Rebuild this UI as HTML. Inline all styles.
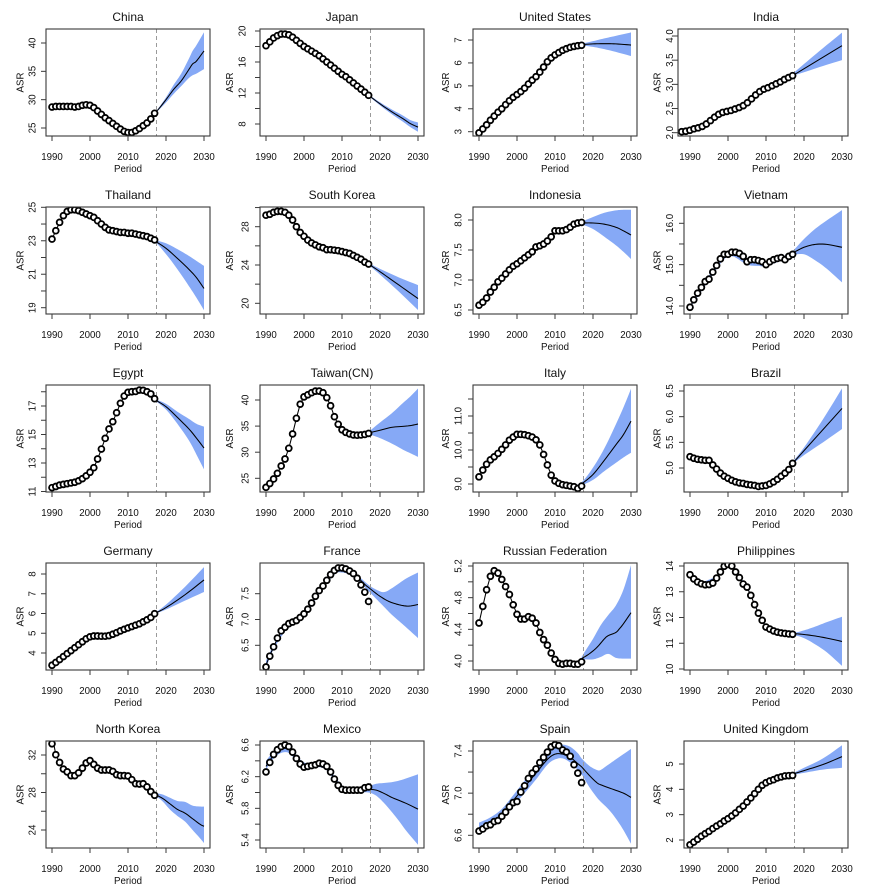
<!DOCTYPE html>
<html><head><meta charset="utf-8">
<style>
html,body{margin:0;padding:0;background:#fff;}
svg{display:block;}
svg text{font-family:"Liberation Sans",Arial,sans-serif;fill:#111;}
.t{font-size:12px;text-anchor:middle;}
.a{font-size:9.7px;text-anchor:middle;}
</style></head>
<body>
<svg id="s" xmlns="http://www.w3.org/2000/svg" width="869" height="892" viewBox="0 0 869 892">
<rect width="869" height="892" fill="#fff"/>
<defs id="defs"></defs>

<g id="p0" transform="translate(0,0)">
<text class="t" x="128" y="21">China</text>
<text class="a" x="52" y="160">1990</text><text class="a" x="90" y="160">2000</text><text class="a" x="128" y="160">2010</text><text class="a" x="166" y="160">2020</text><text class="a" x="204" y="160">2030</text>
<text class="a" x="128" y="172">Period</text>
<text class="a" transform="translate(23.5,82.5) rotate(-90)">ASR</text>
<text class="a" transform="translate(35.5,128) rotate(-90)">25</text>
<text class="a" transform="translate(35.5,99.7) rotate(-90)">30</text>
<text class="a" transform="translate(35.5,71.3) rotate(-90)">35</text>
<text class="a" transform="translate(35.5,43) rotate(-90)">40</text>
</g>

<g id="p1" transform="translate(214,0)">
<text class="t" x="128" y="21">Japan</text>
<text class="a" x="52" y="160">1990</text><text class="a" x="90" y="160">2000</text><text class="a" x="128" y="160">2010</text><text class="a" x="166" y="160">2020</text><text class="a" x="204" y="160">2030</text>
<text class="a" x="128" y="172">Period</text>
<text class="a" transform="translate(19,82.5) rotate(-90)">ASR</text>
<text class="a" transform="translate(31.5,124) rotate(-90)">8</text>
<text class="a" transform="translate(31.5,93) rotate(-90)">12</text>
<text class="a" transform="translate(31.5,62) rotate(-90)">16</text>
<text class="a" transform="translate(31.5,31) rotate(-90)">20</text>
</g>

<g id="p2" transform="translate(427,0)">
<text class="t" x="128" y="21">United States</text>
<text class="a" x="52" y="160">1990</text><text class="a" x="90" y="160">2000</text><text class="a" x="128" y="160">2010</text><text class="a" x="166" y="160">2020</text><text class="a" x="204" y="160">2030</text>
<text class="a" x="128" y="172">Period</text>
<text class="a" transform="translate(22,82.5) rotate(-90)">ASR</text>
<text class="a" transform="translate(34.5,131.7) rotate(-90)">3</text>
<text class="a" transform="translate(34.5,108.8) rotate(-90)">4</text>
<text class="a" transform="translate(34.5,85.8) rotate(-90)">5</text>
<text class="a" transform="translate(34.5,62.9) rotate(-90)">6</text>
<text class="a" transform="translate(34.5,40) rotate(-90)">7</text>
</g>

<g id="p3" transform="translate(638,0)">
<text class="t" x="128" y="21">India</text>
<text class="a" x="52" y="160">1990</text><text class="a" x="90" y="160">2000</text><text class="a" x="128" y="160">2010</text><text class="a" x="166" y="160">2020</text><text class="a" x="204" y="160">2030</text>
<text class="a" x="128" y="172">Period</text>
<text class="a" transform="translate(22.5,82.5) rotate(-90)">ASR</text>
<text class="a" transform="translate(35,132.7) rotate(-90)">2.0</text>
<text class="a" transform="translate(35,108.5) rotate(-90)">2.5</text>
<text class="a" transform="translate(35,84.4) rotate(-90)">3.0</text>
<text class="a" transform="translate(35,60.2) rotate(-90)">3.5</text>
<text class="a" transform="translate(35,36) rotate(-90)">4.0</text>
</g>

<g id="p4" transform="translate(0,178)">
<text class="t" x="128" y="21">Thailand</text>
<text class="a" x="52" y="160">1990</text><text class="a" x="90" y="160">2000</text><text class="a" x="128" y="160">2010</text><text class="a" x="166" y="160">2020</text><text class="a" x="204" y="160">2030</text>
<text class="a" x="128" y="172">Period</text>
<text class="a" transform="translate(23.5,82.5) rotate(-90)">ASR</text>
<text class="a" transform="translate(35.5,129.7) rotate(-90)">19</text>
<text class="a" transform="translate(35.5,96.2) rotate(-90)">21</text>
<text class="a" transform="translate(35.5,62.8) rotate(-90)">23</text>
<text class="a" transform="translate(35.5,29.3) rotate(-90)">25</text>
</g>

<g id="p5" transform="translate(214,178)">
<text class="t" x="128" y="21">South Korea</text>
<text class="a" x="52" y="160">1990</text><text class="a" x="90" y="160">2000</text><text class="a" x="128" y="160">2010</text><text class="a" x="166" y="160">2020</text><text class="a" x="204" y="160">2030</text>
<text class="a" x="128" y="172">Period</text>
<text class="a" transform="translate(19,82.5) rotate(-90)">ASR</text>
<text class="a" transform="translate(34.5,125.3) rotate(-90)">20</text>
<text class="a" transform="translate(34.5,87) rotate(-90)">24</text>
<text class="a" transform="translate(34.5,48.7) rotate(-90)">28</text>
</g>

<g id="p6" transform="translate(427,178)">
<text class="t" x="128" y="21">Indonesia</text>
<text class="a" x="52" y="160">1990</text><text class="a" x="90" y="160">2000</text><text class="a" x="128" y="160">2010</text><text class="a" x="166" y="160">2020</text><text class="a" x="204" y="160">2030</text>
<text class="a" x="128" y="172">Period</text>
<text class="a" transform="translate(22,82.5) rotate(-90)">ASR</text>
<text class="a" transform="translate(34.5,132) rotate(-90)">6.5</text>
<text class="a" transform="translate(34.5,102) rotate(-90)">7.0</text>
<text class="a" transform="translate(34.5,72) rotate(-90)">7.5</text>
<text class="a" transform="translate(34.5,42) rotate(-90)">8.0</text>
</g>

<g id="p7" transform="translate(638,178)">
<text class="t" x="128" y="21">Vietnam</text>
<text class="a" x="52" y="160">1990</text><text class="a" x="90" y="160">2000</text><text class="a" x="128" y="160">2010</text><text class="a" x="166" y="160">2020</text><text class="a" x="204" y="160">2030</text>
<text class="a" x="128" y="172">Period</text>
<text class="a" transform="translate(22.5,82.5) rotate(-90)">ASR</text>
<text class="a" transform="translate(35,128) rotate(-90)">14.0</text>
<text class="a" transform="translate(35,86.7) rotate(-90)">15.0</text>
<text class="a" transform="translate(35,45.3) rotate(-90)">16.0</text>
</g>

<g id="p8" transform="translate(0,356)">
<text class="t" x="128" y="21">Egypt</text>
<text class="a" x="52" y="160">1990</text><text class="a" x="90" y="160">2000</text><text class="a" x="128" y="160">2010</text><text class="a" x="166" y="160">2020</text><text class="a" x="204" y="160">2030</text>
<text class="a" x="128" y="172">Period</text>
<text class="a" transform="translate(23.5,82.5) rotate(-90)">ASR</text>
<text class="a" transform="translate(35.5,135.5) rotate(-90)">11</text>
<text class="a" transform="translate(35.5,107) rotate(-90)">13</text>
<text class="a" transform="translate(35.5,78.5) rotate(-90)">15</text>
<text class="a" transform="translate(35.5,50) rotate(-90)">17</text>
</g>

<g id="p9" transform="translate(214,356)">
<text class="t" x="128" y="21">Taiwan(CN)</text>
<text class="a" x="52" y="160">1990</text><text class="a" x="90" y="160">2000</text><text class="a" x="128" y="160">2010</text><text class="a" x="166" y="160">2020</text><text class="a" x="204" y="160">2030</text>
<text class="a" x="128" y="172">Period</text>
<text class="a" transform="translate(19,82.5) rotate(-90)">ASR</text>
<text class="a" transform="translate(34.5,122.3) rotate(-90)">25</text>
<text class="a" transform="translate(34.5,96.2) rotate(-90)">30</text>
<text class="a" transform="translate(34.5,70.1) rotate(-90)">35</text>
<text class="a" transform="translate(34.5,44) rotate(-90)">40</text>
</g>

<g id="p10" transform="translate(427,356)">
<text class="t" x="128" y="21">Italy</text>
<text class="a" x="52" y="160">1990</text><text class="a" x="90" y="160">2000</text><text class="a" x="128" y="160">2010</text><text class="a" x="166" y="160">2020</text><text class="a" x="204" y="160">2030</text>
<text class="a" x="128" y="172">Period</text>
<text class="a" transform="translate(22,82.5) rotate(-90)">ASR</text>
<text class="a" transform="translate(34.5,128) rotate(-90)">9.0</text>
<text class="a" transform="translate(34.5,94) rotate(-90)">10.0</text>
<text class="a" transform="translate(34.5,60) rotate(-90)">11.0</text>
</g>

<g id="p11" transform="translate(638,356)">
<text class="t" x="128" y="21">Brazil</text>
<text class="a" x="52" y="160">1990</text><text class="a" x="90" y="160">2000</text><text class="a" x="128" y="160">2010</text><text class="a" x="166" y="160">2020</text><text class="a" x="204" y="160">2030</text>
<text class="a" x="128" y="172">Period</text>
<text class="a" transform="translate(22.5,82.5) rotate(-90)">ASR</text>
<text class="a" transform="translate(35,112) rotate(-90)">5.0</text>
<text class="a" transform="translate(35,86.3) rotate(-90)">5.5</text>
<text class="a" transform="translate(35,60.7) rotate(-90)">6.0</text>
<text class="a" transform="translate(35,35) rotate(-90)">6.5</text>
</g>

<g id="p12" transform="translate(0,534)">
<text class="t" x="128" y="21">Germany</text>
<text class="a" x="52" y="160">1990</text><text class="a" x="90" y="160">2000</text><text class="a" x="128" y="160">2010</text><text class="a" x="166" y="160">2020</text><text class="a" x="204" y="160">2030</text>
<text class="a" x="128" y="172">Period</text>
<text class="a" transform="translate(23.5,82.5) rotate(-90)">ASR</text>
<text class="a" transform="translate(35.5,119) rotate(-90)">4</text>
<text class="a" transform="translate(35.5,99.3) rotate(-90)">5</text>
<text class="a" transform="translate(35.5,79.5) rotate(-90)">6</text>
<text class="a" transform="translate(35.5,59.8) rotate(-90)">7</text>
<text class="a" transform="translate(35.5,40) rotate(-90)">8</text>
</g>

<g id="p13" transform="translate(214,534)">
<text class="t" x="128" y="21">France</text>
<text class="a" x="52" y="160">1990</text><text class="a" x="90" y="160">2000</text><text class="a" x="128" y="160">2010</text><text class="a" x="166" y="160">2020</text><text class="a" x="204" y="160">2030</text>
<text class="a" x="128" y="172">Period</text>
<text class="a" transform="translate(19,82.5) rotate(-90)">ASR</text>
<text class="a" transform="translate(34.5,111.3) rotate(-90)">6.5</text>
<text class="a" transform="translate(34.5,85.5) rotate(-90)">7.0</text>
<text class="a" transform="translate(34.5,59.7) rotate(-90)">7.5</text>
</g>

<g id="p14" transform="translate(427,534)">
<text class="t" x="128" y="21">Russian Federation</text>
<text class="a" x="52" y="160">1990</text><text class="a" x="90" y="160">2000</text><text class="a" x="128" y="160">2010</text><text class="a" x="166" y="160">2020</text><text class="a" x="204" y="160">2030</text>
<text class="a" x="128" y="172">Period</text>
<text class="a" transform="translate(22,82.5) rotate(-90)">ASR</text>
<text class="a" transform="translate(34.5,127) rotate(-90)">4.0</text>
<text class="a" transform="translate(34.5,95.3) rotate(-90)">4.4</text>
<text class="a" transform="translate(34.5,63.7) rotate(-90)">4.8</text>
<text class="a" transform="translate(34.5,32) rotate(-90)">5.2</text>
</g>

<g id="p15" transform="translate(638,534)">
<text class="t" x="128" y="21">Philippines</text>
<text class="a" x="52" y="160">1990</text><text class="a" x="90" y="160">2000</text><text class="a" x="128" y="160">2010</text><text class="a" x="166" y="160">2020</text><text class="a" x="204" y="160">2030</text>
<text class="a" x="128" y="172">Period</text>
<text class="a" transform="translate(22.5,82.5) rotate(-90)">ASR</text>
<text class="a" transform="translate(35,135) rotate(-90)">10</text>
<text class="a" transform="translate(35,109.3) rotate(-90)">11</text>
<text class="a" transform="translate(35,83.5) rotate(-90)">12</text>
<text class="a" transform="translate(35,57.8) rotate(-90)">13</text>
<text class="a" transform="translate(35,32) rotate(-90)">14</text>
</g>

<g id="p16" transform="translate(0,712)">
<text class="t" x="128" y="21">North Korea</text>
<text class="a" x="52" y="160">1990</text><text class="a" x="90" y="160">2000</text><text class="a" x="128" y="160">2010</text><text class="a" x="166" y="160">2020</text><text class="a" x="204" y="160">2030</text>
<text class="a" x="128" y="172">Period</text>
<text class="a" transform="translate(23.5,82.5) rotate(-90)">ASR</text>
<text class="a" transform="translate(35.5,118) rotate(-90)">24</text>
<text class="a" transform="translate(35.5,80.5) rotate(-90)">28</text>
<text class="a" transform="translate(35.5,43) rotate(-90)">32</text>
</g>

<g id="p17" transform="translate(214,712)">
<text class="t" x="128" y="21">Mexico</text>
<text class="a" x="52" y="160">1990</text><text class="a" x="90" y="160">2000</text><text class="a" x="128" y="160">2010</text><text class="a" x="166" y="160">2020</text><text class="a" x="204" y="160">2030</text>
<text class="a" x="128" y="172">Period</text>
<text class="a" transform="translate(19,82.5) rotate(-90)">ASR</text>
<text class="a" transform="translate(34.5,128) rotate(-90)">5.4</text>
<text class="a" transform="translate(34.5,96.3) rotate(-90)">5.8</text>
<text class="a" transform="translate(34.5,64.7) rotate(-90)">6.2</text>
<text class="a" transform="translate(34.5,33) rotate(-90)">6.6</text>
</g>

<g id="p18" transform="translate(427,712)">
<text class="t" x="128" y="21">Spain</text>
<text class="a" x="52" y="160">1990</text><text class="a" x="90" y="160">2000</text><text class="a" x="128" y="160">2010</text><text class="a" x="166" y="160">2020</text><text class="a" x="204" y="160">2030</text>
<text class="a" x="128" y="172">Period</text>
<text class="a" transform="translate(22,82.5) rotate(-90)">ASR</text>
<text class="a" transform="translate(34.5,123.3) rotate(-90)">6.6</text>
<text class="a" transform="translate(34.5,81.2) rotate(-90)">7.0</text>
<text class="a" transform="translate(34.5,39) rotate(-90)">7.4</text>
</g>

<g id="p19" transform="translate(638,712)">
<text class="t" x="128" y="21">United Kingdom</text>
<text class="a" x="52" y="160">1990</text><text class="a" x="90" y="160">2000</text><text class="a" x="128" y="160">2010</text><text class="a" x="166" y="160">2020</text><text class="a" x="204" y="160">2030</text>
<text class="a" x="128" y="172">Period</text>
<text class="a" transform="translate(22.5,82.5) rotate(-90)">ASR</text>
<text class="a" transform="translate(35,128) rotate(-90)">2</text>
<text class="a" transform="translate(35,102.7) rotate(-90)">3</text>
<text class="a" transform="translate(35,77.3) rotate(-90)">4</text>
<text class="a" transform="translate(35,52) rotate(-90)">5</text>
</g>
</svg>

<script>
(function(){
var NS="http://www.w3.org/2000/svg";
function mk(t,a,p){var e=document.createElementNS(NS,t);for(var k in a)e.setAttribute(k,a[k]);p.appendChild(e);return e;}
function cr(pts,n){
  if(pts.length<3)return pts.slice();
  var out=[];
  for(var i=0;i<pts.length-1;i++){
    var p0=pts[i-1]||pts[i],p1=pts[i],p2=pts[i+1],p3=pts[i+2]||pts[i+1];
    for(var s=0;s<n;s++){var t=s/n,t2=t*t,t3=t2*t;
      var f=function(a,b,c,d){return 0.5*((2*b)+(-a+c)*t+(2*a-5*b+4*c-d)*t2+(-a+3*b-3*c+d)*t3);};
      out.push([f(p0[0],p1[0],p2[0],p3[0]),f(p0[1],p1[1],p2[1],p3[1])]);}
  }
  out.push(pts[pts.length-1]);return out;
}
function ps(a){return a.map(function(p){return p[0].toFixed(2)+","+p[1].toFixed(2);}).join(" ");}

var P=[
{m:[25,128,40,43],t:[25,30,35,40],
 h:[28.7,28.8,28.8,28.8,28.8,28.8,28.7,28.8,29.0,29.1,29.0,28.6,28.0,27.4,26.8,26.3,25.8,25.3,24.8,24.4,24.2,24.2,24.5,24.9,25.4,25.9,26.6,27.6],
 f:[[2017,27.6],[2018,28.3],[2020,30.0],[2022,31.8],[2024,33.3],[2026,35.3],[2027,36.3],[2028,36.8],[2030,38.6]],
 b:[[2017,27.5,27.7],[2018,28.1,28.5],[2020,29.5,30.4],[2022,31.0,32.6],[2024,32.4,34.6],[2026,33.8,37.2],[2027,34.3,38.6],[2028,34.6,39.6],[2030,35.4,41.9]]},
{m:[8,124,20,31],t:[8,10,12,14,16,18,20],
 h:[18.1,18.6,19.1,19.4,19.6,19.6,19.5,19.2,18.8,18.4,18.0,17.7,17.4,17.1,16.8,16.4,16.0,15.6,15.2,14.8,14.4,14.1,13.7,13.3,12.9,12.5,12.1,11.7],
 f:[[2017,11.7],[2020,10.6],[2023,9.6],[2026,8.7],[2028,8.05],[2030,7.6]],
 b:[[2017,11.6,11.8],[2020,10.4,10.8],[2023,9.3,9.9],[2026,8.3,9.1],[2028,7.6,8.5],[2030,7.0,8.2]]},
{m:[3,131.7,7,40],t:[3,4,5,6,7],
 h:[2.95,3.12,3.3,3.5,3.68,3.85,4.0,4.18,4.35,4.5,4.62,4.75,4.9,5.08,5.25,5.4,5.6,5.82,6.05,6.22,6.35,6.45,6.55,6.62,6.68,6.72,6.75,6.77],
 f:[[2017,6.8],[2020,6.83],[2023,6.84],[2026,6.83],[2030,6.78]],
 b:[[2017,6.76,6.84],[2020,6.7,6.95],[2023,6.6,7.07],[2026,6.48,7.18],[2030,6.3,7.33]]},
{m:[2,132.7,4,36],t:[2,2.5,3,3.5,4],hx0:43.7,bl:40,
 h:[2.02,2.03,2.05,2.08,2.1,2.13,2.18,2.25,2.32,2.38,2.42,2.44,2.46,2.49,2.52,2.56,2.62,2.7,2.78,2.85,2.9,2.93,2.97,3.01,3.05,3.1,3.14,3.18],
 f:[[2017,3.2],[2030,3.8]],
 b:[[2017,3.18,3.22],[2020,3.25,3.42],[2025,3.38,3.75],[2030,3.5,4.07]]},
{m:[19,129.7,25,29.3],t:[19,20,21,22,23,24,25],
 h:[23.1,23.6,24.1,24.5,24.75,24.85,24.85,24.8,24.7,24.6,24.5,24.4,24.2,24.0,23.8,23.65,23.6,23.55,23.5,23.5,23.45,23.45,23.4,23.35,23.3,23.25,23.15,23.05],
 f:[[2017,23.0],[2020,22.55],[2023,21.95],[2026,21.3],[2028,20.8],[2030,20.15]],
 b:[[1994,24.7,24.8],[1996,24.82,25.0],[1998,24.65,24.85],[2000,24.45,24.53],[2002,24.15,24.22],[2004,23.75,23.82],[2006,23.57,23.63],[2010,23.43,23.47],[2014,23.28,23.32],[2017,22.95,23.05],[2020,22.2,22.85],[2023,21.3,22.5],[2026,20.3,22.1],[2028,19.6,21.8],[2030,18.85,21.5]]},
{m:[20,125.3,28,48.7],t:[20,22,24,26,28,30],
 h:[29.2,29.3,29.5,29.6,29.6,29.5,29.2,28.7,28.0,27.4,27.0,26.6,26.3,26.1,25.9,25.8,25.6,25.6,25.55,25.5,25.4,25.3,25.2,25.0,24.8,24.6,24.3,24.1],
 f:[[2017,24.1],[2020,23.3],[2025,21.9],[2030,20.5]],
 b:[[2017,24.0,24.2],[2020,23.0,23.6],[2025,21.2,22.7],[2030,19.3,21.9]]},
{m:[6.5,132,8.0,42],t:[6.5,7,7.5,8],
 h:[6.58,6.63,6.7,6.8,6.88,6.97,7.03,7.1,7.17,7.23,7.27,7.32,7.37,7.42,7.47,7.55,7.57,7.6,7.65,7.72,7.82,7.82,7.82,7.84,7.88,7.93,7.95,7.96],
 f:[[2017,7.95],[2020,7.95],[2023,7.93],[2026,7.88],[2028,7.82],[2030,7.75]],
 b:[[2017,7.93,7.97],[2020,7.85,8.05],[2023,7.72,8.12],[2026,7.58,8.16],[2028,7.47,8.17],[2030,7.35,8.17]]},
{m:[14,128,16,45.3],t:[14,14.5,15,15.5,16],
 h:[13.97,14.15,14.31,14.45,14.59,14.65,14.82,14.98,15.14,15.25,15.25,15.3,15.3,15.27,15.2,15.07,15.12,15.12,15.1,15.07,15.0,15.07,15.12,15.15,15.17,15.12,15.2,15.25],
 f:[[2017,15.28],[2020,15.42],[2023,15.49],[2026,15.49],[2030,15.42]],
 b:[[1990,13.95,14.0],[1995,14.62,14.74],[2000,15.2,15.28],[2005,15.0,15.12],[2008,14.97,15.1],[2010,14.97,15.05],[2015,15.13,15.22],[2017,15.23,15.33],[2020,15.25,15.62],[2023,15.1,15.87],[2026,14.9,16.07],[2030,14.57,16.32]]},
{m:[11,135.5,17,50],t:[11,12,13,14,15,16,17,18],
 h:[11.27,11.35,11.45,11.5,11.55,11.6,11.65,11.75,11.9,12.1,12.35,12.67,13.28,13.98,14.73,15.39,15.9,16.53,17.19,17.7,17.96,18.0,18.02,18.12,18.1,18.0,17.85,17.51],
 f:[[2017,17.45],[2020,16.95],[2023,16.2],[2026,15.4],[2028,14.75],[2030,14.05]],
 b:[[2017,17.4,17.5],[2020,16.75,17.15],[2023,15.75,16.6],[2026,14.6,16.1],[2028,13.6,15.75],[2030,12.55,15.55]]},
{m:[25,122.3,40,44],t:[25,30,35,40],
 h:[23.27,24.0,24.87,25.96,27.36,28.7,30.75,33.5,36.5,39.2,40.6,41.0,41.4,41.7,41.7,41.4,40.45,38.9,36.8,35.35,34.3,33.8,33.5,33.3,33.25,33.3,33.4,33.6],
 f:[[2017,33.7],[2020,34.2],[2023,34.75],[2026,34.95],[2028,35.1],[2030,35.4]],
 b:[[2017,33.5,33.9],[2020,32.7,35.7],[2023,31.7,37.4],[2026,30.5,39.4],[2028,29.8,40.7],[2030,29.1,42.2]]},
{m:[9,128,11,60],t:[9,9.5,10,10.5,11,11.5],
 h:[9.21,9.41,9.58,9.71,9.8,9.9,10.02,10.15,10.29,10.38,10.46,10.46,10.45,10.42,10.38,10.3,10.15,9.87,9.56,9.26,9.09,9.02,8.98,8.96,8.94,8.92,8.87,8.94],
 f:[[2017,9.0],[2020,9.28],[2023,9.7],[2026,10.15],[2028,10.45],[2030,10.85]],
 b:[[2015,8.9,8.96],[2017,8.96,9.05],[2020,9.12,9.48],[2023,9.38,10.05],[2026,9.62,10.75],[2028,9.78,11.25],[2030,9.92,11.8]]},
{m:[5,112,6.5,35],t:[5,5.5,6,6.5],
 h:[5.22,5.19,5.17,5.16,5.15,5.15,5.06,4.98,4.9,4.84,4.8,4.76,4.73,4.71,4.7,4.68,4.67,4.66,4.64,4.65,4.66,4.69,4.73,4.78,4.84,4.9,4.97,5.09],
 f:[[2017,5.1],[2030,6.16]],
 b:[[2017,5.08,5.12],[2020,5.25,5.4],[2025,5.5,5.95],[2030,5.76,6.55]]},
{m:[4,119,8,40],t:[4,5,6,7,8],
 h:[3.38,3.52,3.67,3.82,3.97,4.12,4.27,4.42,4.57,4.72,4.82,4.86,4.86,4.85,4.85,4.88,4.95,5.03,5.12,5.2,5.27,5.34,5.41,5.48,5.58,5.68,5.8,5.99],
 f:[[2017,6.0],[2020,6.3],[2025,6.95],[2030,7.7]],
 b:[[2017,5.98,6.02],[2020,6.2,6.45],[2025,6.65,7.35],[2030,7.09,8.35]]},
{m:[6.5,111.3,7.5,59.7],t:[6.5,7,7.5],
 h:[6.08,6.29,6.47,6.64,6.78,6.85,6.92,6.95,6.98,7.04,7.11,7.2,7.32,7.45,7.56,7.65,7.76,7.87,7.95,8.0,8.0,7.98,7.94,7.89,7.8,7.67,7.53,7.35],
 fh:[[1990,6.12],[1992,6.47],[1994,6.76],[1996,6.9],[1998,6.98],[2000,7.1],[2002,7.31],[2004,7.55],[2006,7.76],[2008,7.92],[2010,7.96],[2012,7.92],[2014,7.82],[2016,7.68],[2017,7.62]],
 f:[[2017,7.62],[2020,7.45],[2023,7.33],[2027,7.26],[2030,7.29]],
 b:[[1990,6.05,6.2],[1992,6.42,6.5],[1996,6.86,6.93],[2000,7.06,7.13],[2004,7.5,7.58],[2008,7.87,7.96],[2010,7.91,8.0],[2012,7.87,7.96],[2014,7.78,7.86],[2017,7.55,7.67],[2019,7.4,7.58],[2021,7.25,7.53],[2023,7.1,7.6],[2025,6.97,7.7],[2027,6.84,7.8],[2030,6.64,7.91]]},
{m:[4,127,5.2,32],t:[4,4.2,4.4,4.6,4.8,5.0,5.2],
 h:[4.48,4.69,4.9,5.07,5.14,5.11,5.03,4.94,4.84,4.71,4.59,4.53,4.53,4.56,4.54,4.48,4.36,4.27,4.2,4.1,4.02,3.97,3.96,3.97,3.97,3.96,3.96,3.99],
 f:[[2017,4.03],[2019,4.09],[2021,4.17],[2023,4.28],[2024,4.32],[2026,4.36],[2027,4.41],[2028,4.47],[2030,4.61]],
 b:[[2017,4.01,4.05],[2018,4.02,4.13],[2020,4.02,4.28],[2022,4.05,4.45],[2024,4.09,4.58],[2026,4.04,4.7],[2028,4.03,4.9],[2030,4.03,5.21]]},
{m:[10,135,14,32],t:[10,11,12,13,14],
 h:[13.66,13.5,13.38,13.31,13.27,13.28,13.34,13.53,13.77,13.99,14.06,14.0,13.77,13.55,13.3,13.18,12.86,12.5,12.17,11.89,11.63,11.55,11.48,11.43,11.4,11.38,11.36,11.35],
 f:[[2017,11.38],[2020,11.34],[2023,11.28],[2026,11.2],[2030,11.07]],
 b:[[1990,13.62,13.7],[1993,13.3,13.42],[1995,13.3,13.47],[1997,13.5,13.64],[1999,13.96,14.08],[2001,13.98,14.08],[2003,13.55,13.62],[2005,13.15,13.22],[2007,12.5,12.56],[2009,11.88,11.94],[2011,11.53,11.58],[2014,11.38,11.43],[2017,11.33,11.4],[2020,11.2,11.5],[2023,10.95,11.65],[2026,10.65,11.82],[2030,10.12,12.03]]},
{m:[24,118,32,43],t:[24,26,28,30,32],
 h:[33.2,32.03,31.2,30.5,30.2,29.8,29.8,30.1,30.6,31.15,31.4,31.0,30.6,30.4,30.4,30.4,30.25,29.9,29.8,29.8,29.76,29.37,28.94,28.9,28.94,28.6,28.1,27.7],
 fl0:34.2,
 f:[[2017,27.8],[2019,27.4],[2021,26.8],[2023,26.2],[2025,25.8],[2027,25.2],[2029,24.6],[2030,24.4]],
 b:[[2017,27.7,27.95],[2019,27.1,27.8],[2021,26.2,27.45],[2023,25.5,27.1],[2025,24.9,27.0],[2027,24.0,26.6],[2029,23.1,26.5],[2030,22.6,26.5]]},
{m:[5.4,128,6.6,33],t:[5.4,5.6,5.8,6.0,6.2,6.4,6.6],
 h:[6.26,6.38,6.48,6.54,6.58,6.6,6.58,6.51,6.43,6.36,6.32,6.33,6.34,6.35,6.37,6.36,6.33,6.26,6.17,6.09,6.04,6.03,6.03,6.03,6.03,6.03,6.06,6.07],
 fh:[[1990,6.33],[1992,6.47],[1994,6.55],[1996,6.55],[1998,6.44],[2000,6.35],[2002,6.34],[2004,6.35],[2006,6.32],[2008,6.18],[2010,6.06],[2012,6.03],[2015,6.03],[2017,6.04]],
 f:[[2017,6.04],[2019,6.03],[2021,5.99],[2023,5.94],[2025,5.9],[2027,5.86],[2030,5.79]],
 b:[[1990,6.29,6.4],[1992,6.43,6.52],[1994,6.5,6.6],[1996,6.5,6.6],[1998,6.4,6.47],[2000,6.32,6.38],[2002,6.31,6.37],[2004,6.32,6.38],[2006,6.28,6.35],[2008,6.15,6.21],[2010,6.03,6.09],[2012,6.0,6.06],[2015,6.0,6.06],[2017,6.0,6.08],[2019,5.96,6.11],[2021,5.87,6.12],[2023,5.76,6.13],[2025,5.64,6.15],[2027,5.51,6.18],[2030,5.34,6.23]]},
{m:[6.6,123.3,7.4,39],t:[6.6,6.8,7.0,7.2,7.4],
 h:[6.64,6.66,6.69,6.7,6.73,6.74,6.78,6.82,6.87,6.91,6.92,7.01,7.07,7.14,7.19,7.23,7.29,7.34,7.39,7.44,7.46,7.45,7.41,7.39,7.35,7.27,7.19,7.1],
 fh:[[1990,6.67],[1993,6.72],[1996,6.8],[1999,6.93],[2002,7.06],[2005,7.19],[2008,7.32],[2010,7.37],[2012,7.37],[2014,7.34],[2016,7.28],[2017,7.25]],
 f:[[2017,7.25],[2019,7.17],[2021,7.1],[2022,7.08],[2025,7.04],[2028,7.0],[2030,6.96]],
 b:[[1990,6.63,6.72],[1993,6.68,6.77],[1996,6.76,6.85],[1999,6.88,6.98],[2002,7.0,7.12],[2005,7.13,7.26],[2008,7.27,7.39],[2010,7.32,7.44],[2012,7.33,7.46],[2014,7.29,7.44],[2016,7.22,7.38],[2017,7.18,7.33],[2019,7.06,7.26],[2021,6.96,7.22],[2022,6.92,7.22],[2024,6.85,7.27],[2026,6.76,7.32],[2028,6.65,7.37],[2030,6.52,7.42]]},
{m:[2,128,5,52],t:[2,3,4,5],
 h:[1.81,1.92,2.03,2.15,2.25,2.34,2.45,2.55,2.64,2.75,2.84,2.95,3.07,3.21,3.34,3.5,3.66,3.83,4.0,4.16,4.26,4.33,4.38,4.45,4.49,4.53,4.54,4.55],
 f:[[2017,4.6],[2020,4.74],[2025,4.98],[2030,5.29]],
 b:[[2017,4.57,4.63],[2020,4.65,4.85],[2025,4.78,5.22],[2030,4.85,5.74]]}
];

var defs=document.getElementById('defs');
var BAND="rgb(134,169,246)";
P.forEach(function(p,i){
  var g=document.getElementById('p'+i);
  var X=function(yr){return 52+(yr-1990)*3.8;};
  var XH=(p.hx0!=null)?function(yr){return p.hx0+(yr-1990)*(154.6-p.hx0)/27;}:X;
  var Y=function(v){return p.m[1]+(v-p.m[0])*(p.m[3]-p.m[1])/(p.m[2]-p.m[0]);};
  var L=p.bl||46,R=210,T=29,B=136;
  var cp=mk('clipPath',{id:'c'+i},defs);
  mk('rect',{x:L,y:T,width:R-L,height:B-T},cp);
  var gg=mk('g',{'clip-path':'url(#c'+i+')'},g);
  var up=cr(p.b.map(function(k){return [X(k[0]),Y(k[2])];}),6);
  var lo=cr(p.b.map(function(k){return [X(k[0]),Y(k[1])];}),6).reverse();
  mk('polygon',{points:ps(up.concat(lo)),fill:BAND,stroke:'none'},gg);
  var xd=X(2017.5);
  mk('line',{x1:xd,y1:T,x2:xd,y2:B,stroke:'#9a9a9a','stroke-width':1,'stroke-dasharray':'4,3'},gg);
  var lp;
  if(p.fh){lp=cr(p.fh.map(function(k){return [X(k[0]),Y(k[1])];}),6);}
  else{lp=p.h.map(function(v,j){if(j===0&&p.fl0!=null)v=p.fl0;return [XH(1990+j),Y(v)];});}
  var fp=cr(p.f.map(function(k){return [X(k[0]),Y(k[1])];}),6);
  lp=lp.concat(fp.slice(1));
  mk('polyline',{points:ps(lp),fill:'none',stroke:'#000','stroke-width':1.05,'stroke-linejoin':'round'},gg);
  p.h.forEach(function(v,j){
    mk('circle',{cx:XH(1990+j).toFixed(2),cy:Y(v).toFixed(2),r:2.9,fill:'#fff',stroke:'#000','stroke-width':1.85},gg);
  });
  mk('rect',{x:L,y:T,width:R-L,height:B-T,fill:'none',stroke:'#3a3a3a','stroke-width':1.1},g);
  for(var yr=1990;yr<=2030;yr+=10){var x=X(yr);mk('line',{x1:x,y1:B,x2:x,y2:B+5,stroke:'#3a3a3a','stroke-width':1},g);}
  p.t.forEach(function(v){var y=Y(v);mk('line',{x1:L,y1:y,x2:L-5,y2:y,stroke:'#3a3a3a','stroke-width':1},g);});
});
})();
</script>
</body></html>
